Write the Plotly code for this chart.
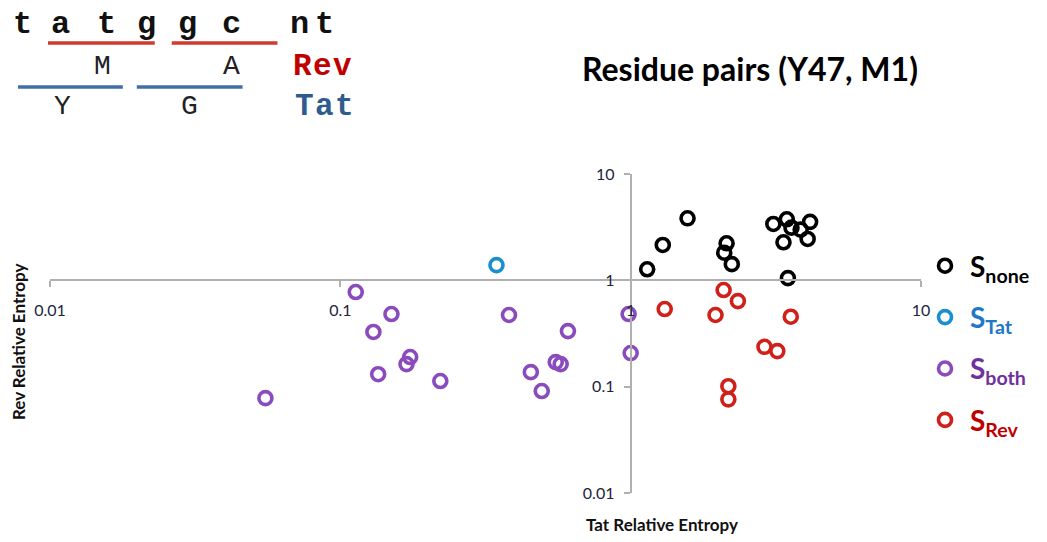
import plotly.graph_objects as go

# ---------------- data ----------------
none_x = [1.14, 1.29, 1.57, 2.14, 2.10, 2.23, 3.10, 3.45, 3.36, 3.58, 3.85, 4.15, 4.07, 3.48]
none_y = [1.27, 2.15, 3.83, 2.23, 1.82, 1.42, 3.39, 3.75, 2.28, 3.13, 3.00, 3.55, 2.45, 1.05]

tat_x = [0.345]
tat_y = [1.39]

both_x = [0.0552, 0.113, 0.150, 0.130, 0.174, 0.169, 0.135, 0.221, 0.381,
          0.608, 0.552, 0.574, 0.453, 0.494, 0.984, 1.00]
both_y = [0.078, 0.776, 0.482, 0.327, 0.190, 0.163, 0.131, 0.113, 0.472,
          0.333, 0.170, 0.163, 0.137, 0.091, 0.482, 0.207]

rev_x = [1.31, 2.09, 2.34, 1.96, 3.56, 2.89, 3.20, 2.17, 2.17]
rev_y = [0.537, 0.811, 0.638, 0.472, 0.455, 0.237, 0.216, 0.101, 0.076]

tick_vals = [0.01, 0.1, 1, 10]
tick_text = ["0.01", "0.1", "1", "10"]

title_text = "Residue pairs (Y47, M1)"
x_title = "Tat Relative Entropy"
y_title = "Rev Relative Entropy"

series = [
    ("none", none_x, none_y, "#000000", "#000000"),
    ("Tat", tat_x, tat_y, "#1a8fd0", "#1f78c8"),
    ("both", both_x, both_y, "#8a4bbd", "#7030a0"),
    ("Rev", rev_x, rev_y, "#d0201a", "#c00000"),
]

# ---------------- figure ----------------
W, H = 1047, 542
ML, MR, MT, MB = 50, 124, 174, 49
PW, PH = W - ML - MR, H - MT - MB


def px(x):
    return (x - ML) / PW


def py(y):
    return (H - MB - y) / PH


fig = go.Figure()
for i, (name, xs, ys, col, tcol) in enumerate(series):
    fig.add_trace(go.Scatter(
        x=xs, y=ys, mode="markers",
        name=f'<b><span style="color:{tcol}">S<sub>{name}</sub></span></b>',
        legendgroup=f"g{i}",
        marker=dict(symbol="circle-open", size=13, color=col,
                    line=dict(width=3.6, color=col)),
        hoverinfo="x+y",
    ))

FONT = "Lato, 'Open Sans', sans-serif"
axis_common = dict(
    type="log", range=[-2, 1], anchor="free", position=2 / 3,
    showline=True, linecolor="#b0b0b0", linewidth=2,
    ticks="outside", ticklen=6, tickcolor="#b0b0b0", tickwidth=2,
    tickvals=tick_vals, ticktext=tick_text,
    showgrid=False, zeroline=False,
    tickfont=dict(family=FONT, size=16, color="#1c2540"),
)

fig.update_layout(
    width=W, height=H,
    margin=dict(l=ML, r=MR, t=MT, b=MB),
    paper_bgcolor="white", plot_bgcolor="white",
    xaxis=dict(axis_common, ticklabelstandoff=9),
    yaxis=dict(axis_common, ticklabelstandoff=6),
    showlegend=True,
    legend=dict(
        x=px(922), y=py(241), xanchor="left", yanchor="top",
        font=dict(family=FONT, size=28, color="black"),
        tracegroupgap=12, bgcolor="rgba(0,0,0,0)",
        itemsizing="trace", itemwidth=40,
    ),
    font=dict(family=FONT),
)

ann = []
# title
ann.append(dict(text=f"<b>{title_text}</b>", x=px(752), y=py(68), xref="paper", yref="paper",
                showarrow=False, font=dict(family=FONT, size=32, color="black"),
                xanchor="center", yanchor="middle"))
# axis titles
ann.append(dict(text=f"<b>{x_title}</b>", x=px(663), y=py(524), xref="paper", yref="paper",
                showarrow=False, font=dict(family=FONT, size=17, color="#111"),
                xanchor="center", yanchor="middle"))
ann.append(dict(text=f"<b>{y_title}</b>", x=px(18), y=py(342), xref="paper", yref="paper",
                showarrow=False, textangle=-90, font=dict(family=FONT, size=17, color="#111"),
                xanchor="center", yanchor="middle"))

# sequence diagram (top-left)
MONO = "'Liberation Mono', 'Courier New', monospace"
rows = [
    # (characters, x centres, y centre, bold, size, colour)
    ("tatggc", [22, 61, 107, 147, 188, 232], 24, True, 32, "#111111"),
    ("nt", [300, 325], 24, True, 32, "#111111"),
    ("MA", [103, 232], 67, False, 28, "#222222"),
    ("Rev", [303, 323, 343], 67, True, 31, "#c00000"),
    ("YG", [63, 190], 107, False, 28, "#222222"),
    ("Tat", [305, 325, 345], 107, True, 31, "#2e5c8c"),
]
for chars, xs, yc, bold, size, col in rows:
    for ch, xc in zip(chars, xs):
        t = f"<b>{ch}</b>" if bold else ch
        ann.append(dict(text=t, x=px(xc), y=py(yc), xref="paper", yref="paper",
                        showarrow=False, font=dict(family=MONO, size=size, color=col),
                        xanchor="center", yanchor="middle"))
fig.update_layout(annotations=ann)

shapes = []
for x0, x1, y, col in [(48, 155, 43, "#d23a2e"), (172, 278, 43, "#d23a2e"),
                       (18, 123, 87, "#3f6fa6"), (137, 243, 87, "#3f6fa6")]:
    shapes.append(dict(type="line", xref="paper", yref="paper",
                       x0=px(x0), x1=px(x1), y0=py(y), y1=py(y),
                       line=dict(color=col, width=3.5)))
fig.update_layout(shapes=shapes)

fig.write_html("out.html")
